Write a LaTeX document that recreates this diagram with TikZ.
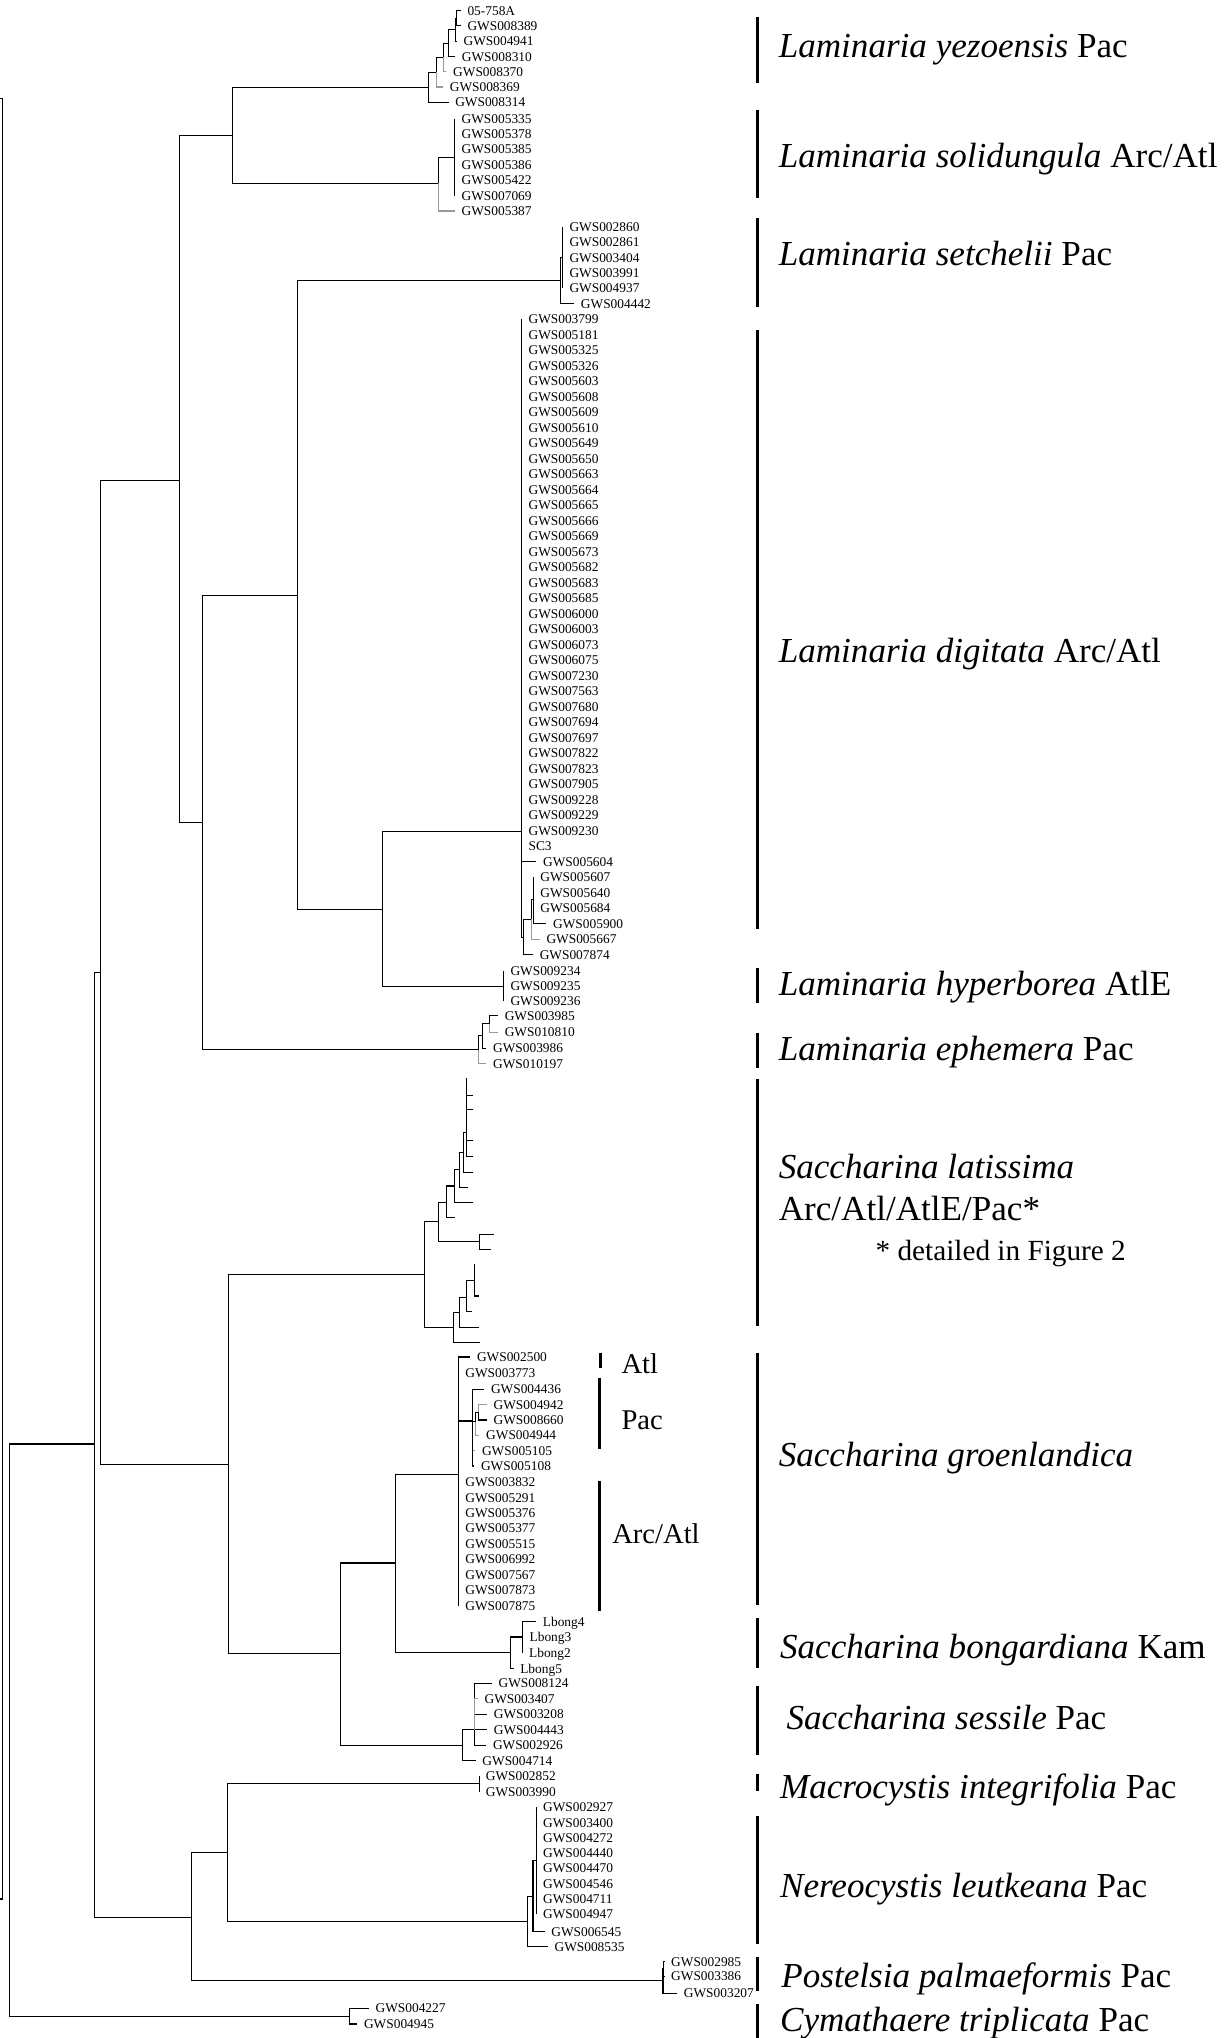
\documentclass[tikz,border=0pt]{standalone}
\usepackage{fontspec}
\setmainfont{Liberation Serif}
\newcommand\leafsize{\fontsize{10.3}{12}\selectfont}
\newcommand\cladesize{\fontsize{27}{30}\selectfont}
\newcommand\regionsize{\fontsize{22}{25}\selectfont}
\newcommand\notesize{\fontsize{22.5}{25}\selectfont}
\tikzset{
  branch/.style={line width=0.85pt},
  faint/.style={draw=black!40},
  leaf/.style={anchor=west, inner xsep=5pt, inner ysep=0pt, text height=7pt, text depth=0pt, font=\leafsize},
  clade/.style={anchor=west, inner sep=0pt, text height=18pt, text depth=0pt, font=\cladesize},
  region/.style={anchor=west, inner sep=0pt, text height=15pt, text depth=0pt, font=\regionsize},
  bigbar/.style={line width=2.6pt},
  smallbar/.style={line width=2pt},
}

\begin{document}
\begin{tikzpicture}[x=1pt,y=-1pt]
  \useasboundingbox (0,0) rectangle (942,1568);

  % Define vertices
  % backbone
  \coordinate (rt0) at (0,76);
  \coordinate (rt) at (2,76);
  \coordinate (rb) at (2,1461);
  \coordinate (rb0) at (0,1461);
  \coordinate (D) at (7,1330);
  \coordinate (C) at (73,1111);
  \coordinate (A) at (77,748.5);
  \coordinate (B) at (138,370);
  \coordinate (nys) at (179,104);
  \coordinate (F) at (156,633);
  \coordinate (E) at (229,458);
  \coordinate (G) at (294,699.5);
  \coordinate (H) at (176,1127);
  \coordinate (I) at (262,1272.5);
  \coordinate (J) at (304.5,1202.5);
  \coordinate (K) at (147,1475);
  \coordinate (L) at (175,1425.5);

  % Laminaria yezoensis
  \coordinate (yz0) at (330,67.1);
  \coordinate (yz1) at (335.7,55.6);
  \coordinate (yz2) at (341,44.2);
  \coordinate (yz3) at (345.4,33.2);
  \coordinate (yz4) at (350.6,22.9);
  \coordinate (yz5) at (351.3,14.1);
  \node[leaf] (y1) at (354.5,8.2) {05-758A};
  \node[leaf] (y2) at (354.5,19.95) {GWS008389};
  \node[leaf] (y3) at (351.5,31.7) {GWS004941};
  \node[leaf] (y4) at (350.2,43.45) {GWS008310};
  \node[leaf] (y5) at (343.5,55.2) {GWS008370};
  \node[leaf] (y6) at (340.9,66.95) {GWS008369};
  \node[leaf] (y7) at (345.1,78.7) {GWS008314};

  % Laminaria solidungula
  \coordinate (so0) at (337.5,141);
  \coordinate (so1) at (350,121);
  \foreach \lab [count=\i] in {GWS005335,GWS005378,GWS005385,GWS005386,GWS005422,GWS007069}
    \node[leaf] (s\i) at (350,{91.3+(\i-1)*11.84}) {\lab};
  \node[leaf] (s7) at (350,162.3) {GWS005387};

  % Laminaria setchelii
  \coordinate (se0) at (431.5,216);
  \coordinate (se1) at (433,198.2);
  \foreach \lab [count=\i] in {GWS002860,GWS002861,GWS003404,GWS003991,GWS004937}
    \node[leaf] (t\i) at (433,{174.3+(\i-1)*11.9}) {\lab};
  \node[leaf] (t6) at (441.8,233.8) {GWS004442};

  % Laminaria digitata
  \coordinate (dg) at (401.5,640);
  \coordinate (dg2) at (403,721);
  \coordinate (dg3) at (408.8,707.2);
  \coordinate (dg4) at (410.6,692.3);
  \foreach \lab [count=\i] in {GWS003799,GWS005181,GWS005325,GWS005326,GWS005603,
      GWS005608,GWS005609,GWS005610,GWS005649,GWS005650,GWS005663,GWS005664,
      GWS005665,GWS005666,GWS005669,GWS005673,GWS005682,GWS005683,GWS005685,
      GWS006000,GWS006003,GWS006073,GWS006075,GWS007230,GWS007563,GWS007680,
      GWS007694,GWS007697,GWS007822,GWS007823,GWS007905,GWS009228,GWS009229,
      GWS009230,SC3}
    \node[leaf] (d\i) at (401.5,{245.6+(\i-1)*11.93}) {\lab};
  \node[leaf] (d36) at (412.7,663.1) {GWS005604};
  \node[leaf] (d37) at (410.6,675) {GWS005607};
  \node[leaf] (d38) at (410.6,686.9) {GWS005640};
  \node[leaf] (d39) at (410.6,698.8) {GWS005684};
  \node[leaf] (d40) at (420.4,710.8) {GWS005900};
  \node[leaf] (d41) at (415.3,722.7) {GWS005667};
  \node[leaf] (d42) at (410.1,734.6) {GWS007874};

  % Laminaria hyperborea
  \coordinate (hy) at (387.6,758.7);
  \foreach \lab [count=\i] in {GWS009234,GWS009235,GWS009236}
    \node[leaf] (h\i) at (387.6,{747.1+(\i-1)*11.6}) {\lab};

  % Laminaria ephemera
  \coordinate (ep0) at (368.4,807.6);
  \coordinate (ep1) at (370.9,797);
  \coordinate (ep2) at (376.3,787.7);
  \node[leaf] (e1) at (383.2,781.3) {GWS003985};
  \node[leaf] (e2) at (383.2,794.1) {GWS010810};
  \node[leaf] (e3) at (374.2,806.4) {GWS003986};
  \node[leaf] (e4) at (374.2,818.2) {GWS010197};

  % Saccharina latissima (collapsed)
  \coordinate (lat0) at (326.8,980.5);
  \coordinate (p1) at (337.6,940);
  \coordinate (p2) at (343.5,925);
  \coordinate (p3) at (349.9,912.5);
  \coordinate (p4) at (353.7,900);
  \coordinate (p5) at (356.8,886.5);
  \coordinate (p6) at (358.9,871);
  \coordinate (pb) at (369.1,955.5);
  \coordinate (r1) at (349.1,1021);
  \coordinate (r2) at (353.7,1009.7);
  \coordinate (r3) at (358.9,998.4);
  \coordinate (r4) at (365.3,985);
  \coordinate (u1) at (358.9,829.3);
  \coordinate (u2) at (364,842.6);
  \coordinate (u3) at (364,853.6);
  \coordinate (u4) at (358.9,865);
  \coordinate (u5) at (364,877.5);
  \coordinate (u6) at (364,889.5);
  \coordinate (u7) at (364,902);
  \coordinate (u8) at (360.1,913.8);
  \coordinate (u9) at (364,925);
  \coordinate (u10) at (349.9,937);
  \coordinate (u11) at (379.9,949.7);
  \coordinate (u12) at (378.1,961.3);
  \coordinate (v1) at (365.3,972.8);
  \coordinate (v2) at (368.6,997.1);
  \coordinate (v3) at (363.5,1008.7);
  \coordinate (v4) at (368.6,1021);
  \coordinate (v5) at (369.1,1033);

  % Saccharina groenlandica
  \coordinate (gr0) at (352.9,1134.3);
  \coordinate (pac0) at (363.4,1093.3);
  \coordinate (pac1) at (366,1094);
  \coordinate (pac2) at (368,1086.4);
  \node[leaf] (g1) at (361.8,1044) {GWS002500};
  \node[leaf] (g2) at (352.9,1056) {GWS003773};
  \node[leaf] (g3) at (372.6,1068.9) {GWS004436};
  \node[leaf] (g4) at (374.6,1080.7) {GWS004942};
  \node[leaf] (g5) at (374.6,1092.5) {GWS008660};
  \node[leaf] (g6) at (368.9,1104.3) {GWS004944};
  \node[leaf] (g7) at (365.7,1116.1) {GWS005105};
  \node[leaf] (g8) at (364.9,1127.9) {GWS005108};
  \foreach \lab [count=\i] in {GWS003832,GWS005291,GWS005376,GWS005377,GWS005515,
      GWS006992,GWS007567,GWS007873,GWS007875}
    \node[leaf] (ga\i) at (352.9,{1140.2+(\i-1)*11.9}) {\lab};

  % Saccharina bongardiana
  \coordinate (bg0) at (392.7,1271.5);
  \coordinate (bg1) at (401.9,1259.5);
  \node[leaf] (b1) at (412.5,1247.6) {Lbong4};
  \node[leaf] (b2) at (402.3,1259.5) {Lbong3};
  \node[leaf] (b3) at (401.9,1271.4) {Lbong2};
  \node[leaf] (b4) at (395.1,1283.7) {Lbong5};

  % Saccharina sessile
  \coordinate (ss0) at (355.5,1342.8);
  \coordinate (ss1) at (364.8,1330.9);
  \node[leaf] (x1) at (378.4,1295) {GWS008124};
  \node[leaf] (x2) at (367.7,1306.9) {GWS003407};
  \node[leaf] (x3) at (374.8,1318.9) {GWS003208};
  \node[leaf] (x4) at (374.8,1330.9) {GWS004443};
  \node[leaf] (x5) at (374.1,1342.8) {GWS002926};
  \node[leaf] (x6) at (366,1354.7) {GWS004714};

  % Macrocystis integrifolia
  \coordinate (mi0) at (368.6,1372.4);
  \node[leaf] (m1) at (368.6,1366.2) {GWS002852};
  \node[leaf] (m2) at (368.6,1378.5) {GWS003990};

  % Nereocystis leutkeana
  \coordinate (nr0) at (405.5,1478.3);
  \coordinate (nr1) at (410.1,1458.9);
  \coordinate (nr2) at (412.7,1431.6);
  \foreach \lab [count=\i] in {GWS002927,GWS003400,GWS004272,GWS004440,GWS004470,
      GWS004546,GWS004711,GWS004947}
    \node[leaf] (n\i) at (412.7,{1390.6+(\i-1)*11.71}) {\lab};
  \node[leaf] (n9) at (419,1486.2) {GWS006545};
  \node[leaf] (n10) at (421.5,1497.7) {GWS008535};

  % Postelsia palmaeformis
  \coordinate (pp0) at (510.1,1524);
  \coordinate (pp1) at (510.6,1514.7);
  \node[leaf] (o1) at (511.2,1509.3) {GWS002985};
  \node[leaf] (o2) at (511.2,1520.6) {GWS003386};
  \node[leaf] (o3) at (521,1533.5) {GWS003207};

  % Cymathaere triplicata
  \coordinate (cym) at (269.1,1551.6);
  \node[leaf] (c1) at (283.8,1545.2) {GWS004227};
  \node[leaf] (c2) at (274.9,1557.2) {GWS004945};

  % Draw tree
  \begin{scope}[branch]
    \draw (rt0) -- (rt) -- (rb) -- (rb0);
    \draw (D) |- (C);  \draw (D) |- (cym);
    \draw (C) |- (A);  \draw (C) |- (K);
    \draw (A) |- (B);  \draw (A) |- (H);
    \draw (B) |- (nys); \draw (B) |- (F);
    \draw (nys) |- (yz0); \draw (nys) |- (so0);
    \draw (F) |- (E);  \draw (F) |- (ep0);
    \draw (E) |- (se0); \draw (E) |- (G);
    \draw (G) |- (dg); \draw (G) |- (hy);
    \draw (H) |- (lat0); \draw (H) |- (I);
    \draw (I) |- (J);  \draw (I) |- (ss0);
    \draw (J) |- (gr0); \draw (J) |- (bg0);
    \draw (K) |- (L);  \draw (K) |- (pp0);
    \draw (L) |- (mi0); \draw (L) |- (nr0);

    % yezoensis
    \draw (yz0) |- (yz1); \draw (yz0) |- (y7.west);
    \draw (yz1) |- (yz2); \draw[faint] (yz1) |- (y6.west);
    \draw (yz2) |- (yz3); \draw[faint] (yz2) |- (y5.west);
    \draw (yz3) |- (yz4); \draw (yz3) |- (y4.west);
    \draw (yz4) |- (yz5); \draw (yz4) |- (y3.west);
    \draw (yz5) |- (y1.west); \draw (yz5) |- (y2.west);

    % solidungula
    \draw (so0) |- (so1); \draw[faint] (so0) |- (s7.west);
    \foreach \i in {1,...,6} \draw (so1) |- (s\i.west);

    % setchelii
    \draw (se0) |- (se1); \draw (se0) |- (t6.west);
    \foreach \i in {1,...,5} \draw (se1) |- (t\i.west);

    % digitata
    \foreach \i in {1,...,36} \draw (dg) |- (d\i.west);
    \draw (dg) |- (dg2);
    \draw (dg2) |- (dg3); \draw (dg2) |- (d42.west);
    \draw (dg3) |- (dg4); \draw[faint] (dg3) |- (d41.west);
    \foreach \i in {37,...,40} \draw (dg4) |- (d\i.west);

    % hyperborea
    \foreach \i in {1,2,3} \draw (hy) |- (h\i.west);

    % ephemera
    \draw (ep0) |- (ep1); \draw[faint] (ep0) |- (e4.west);
    \draw (ep1) |- (ep2); \draw (ep1) |- (e3.west);
    \draw (ep2) |- (e1.west); \draw[faint] (ep2) |- (e2.west);

    % latissima
    \draw (lat0) |- (p1); \draw (lat0) |- (r1);
    \draw (p1) |- (p2); \draw (p1) |- (pb);
    \draw (pb) |- (u11); \draw (pb) |- (u12);
    \draw (p2) |- (p3); \draw (p2) |- (u10);
    \draw (p3) |- (p4); \draw (p3) |- (u9);
    \draw (p4) |- (p5); \draw (p4) |- (u8);
    \draw (p5) |- (p6); \draw (p5) |- (u7);
    \foreach \i in {1,...,6} \draw (p6) |- (u\i);
    \draw (r1) |- (r2); \draw (r1) |- (v5);
    \draw (r2) |- (r3); \draw (r2) |- (v4);
    \draw (r3) |- (r4); \draw (r3) |- (v3);
    \draw (r4) |- (v1); \draw (r4) |- (v2);

    % groenlandica
    \draw (gr0) |- (g1.west); \draw (gr0) |- (g2.west);
    \draw (gr0) |- (pac0);
    \foreach \i in {1,...,9} \draw (gr0) |- (ga\i.west);
    \draw (pac0) |- (g3.west); \draw (pac0) |- (pac1);
    \draw[faint] (pac0) |- (g7.west); \draw (pac0) |- (g8.west);
    \draw (pac1) |- (pac2); \draw[faint] (pac1) |- (g6.west);
    \draw[faint] (pac2) |- (g4.west); \draw (pac2) |- (g5.west);

    % bongardiana
    \draw (bg0) |- (bg1); \draw (bg0) |- (b4.west);
    \foreach \i in {1,2,3} \draw (bg1) |- (b\i.west);

    % sessile
    \draw (ss0) |- (ss1); \draw (ss0) |- (x6.west);
    \foreach \i in {1,3,4,5} \draw (ss1) |- (x\i.west);
    \draw[faint] (ss1) |- (x2.west);

    % macrocystis
    \draw (mi0) |- (m1.west); \draw (mi0) |- (m2.west);

    % nereocystis
    \draw (nr0) |- (nr1); \draw (nr0) |- (n10.west);
    \draw (nr1) |- (nr2); \draw (nr1) |- (n9.west);
    \foreach \i in {1,...,8} \draw (nr2) |- (n\i.west);

    % postelsia
    \draw (pp0) |- (pp1); \draw (pp0) |- (o3.west);
    \draw (pp1) |- (o1.west); \draw (pp1) |- (o2.west);

    % cymathaere
    \draw (cym) |- (c1.west); \draw (cym) |- (c2.west);
  \end{scope}

  % groenlandica regions
  \draw[smallbar] (462,1040.7) -- (462,1052.2);
  \draw[smallbar] (461.4,1060) -- (461.4,1115);
  \draw[smallbar] (461.4,1139.4) -- (461.4,1239.4);
  \node[region] (ratl) at (478,1048.9) {Atl};
  \node[region] (rpac) at (478,1092) {Pac};
  \node[region] (rarc) at (470.9,1180.4) {Arc/Atl};

  % species bars
  \draw[bigbar] (583,13) -- (583,64);
  \draw[bigbar] (583,85) -- (583,152);
  \draw[bigbar] (583,168) -- (583,236);
  \draw[bigbar] (583,254) -- (583,715);
  \draw[bigbar] (583,745) -- (583,772);
  \draw[bigbar] (583,795) -- (583,822);
  \draw[bigbar] (583,830) -- (583,1020);
  \draw[bigbar] (583,1041) -- (583,1235);
  \draw[bigbar] (583,1245) -- (583,1283);
  \draw[bigbar] (583,1297) -- (583,1350);
  \draw[bigbar] (583,1365) -- (583,1378);
  \draw[bigbar] (583,1397) -- (583,1496);
  \draw[bigbar] (583,1506) -- (583,1532);
  \draw[bigbar] (583,1542) -- (583,1568);

  % species names
  \node[clade] (lyez) at (599,35) {\textit{Laminaria yezoensis} Pac};
  \node[clade] (lsol) at (599,120) {\textit{Laminaria solidungula} Arc/Atl};
  \node[clade] (lset) at (599,195) {\textit{Laminaria setchelii} Pac};
  \node[clade] (ldig) at (599,501) {\textit{Laminaria digitata} Arc/Atl};
  \node[clade] (lhyp) at (599,757) {\textit{Laminaria hyperborea} AtlE};
  \node[clade] (leph) at (599,807) {\textit{Laminaria ephemera} Pac};
  \node[clade] (slat) at (599,898) {\textit{Saccharina latissima}};
  \node[clade] (slat2) at (599,930) {Arc/Atl/AtlE/Pac*};
  \node[region, font=\notesize] (sfig) at (673.5,962) {* detailed in Figure 2};
  \node[clade] (sgro) at (599,1119) {\textit{Saccharina groenlandica}};
  \node[clade] (sbon) at (600,1267) {\textit{Saccharina bongardiana} Kam};
  \node[clade] (sses) at (605,1322) {\textit{Saccharina sessile} Pac};
  \node[clade] (mint) at (600,1375) {\textit{Macrocystis integrifolia} Pac};
  \node[clade] (nleu) at (600,1451) {\textit{Nereocystis leutkeana} Pac};
  \node[clade] (ppal) at (601,1520) {\textit{Postelsia palmaeformis} Pac};
  \node[clade] (ctri) at (600,1554) {\textit{Cymathaere triplicata} Pac};
\end{tikzpicture}
\end{document}
